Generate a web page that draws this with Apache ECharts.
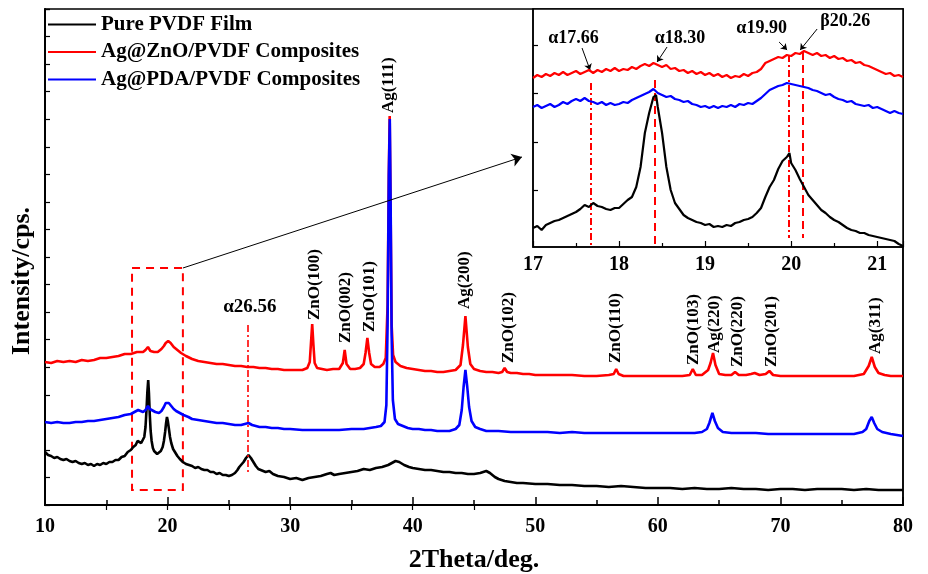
<!DOCTYPE html>
<html><head><meta charset="utf-8">
<script src="https://cdn.jsdelivr.net/npm/echarts@6/dist/echarts.min.js"></script>
<style>html,body{margin:0;padding:0;background:#fff}#c{width:928px;height:574px}</style>
</head><body><div id="c"></div>
<script>
const seriesNames = ['Pure PVDF Film', 'Ag@ZnO/PVDF Composites', 'Ag@PDA/PVDF Composites'];
const seriesColors = ['#000000', '#ff0000', '#0000ff'];

// Main pattern, 2θ (deg) vs intensity (arb. offset units)
const pvdfMain = [[10,53],[10.25,50],[10.5,49],[10.75,47],[11,48],[11.25,46],[11.5,45],[11.75,46],[12,44],[12.25,43],[12.5,44],[12.75,42],[13,41],[13.25,42],[13.5,40],[13.75,41],[14,39],[14.25,41],[14.5,40],[14.75,42],[15,41],[15.25,43],[15.5,43],[15.75,45],[16,45],[16.25,48],[16.5,49],[16.75,53],[17,55],[17.2,58],[17.4,60],[17.55,64],[17.7,66],[17.85,62],[18,64],[18.1,68],[18.2,78],[18.28,95],[18.35,113],[18.42,125],[18.48,112],[18.55,90],[18.62,74],[18.7,64],[18.8,57],[18.9,54],[19.0,53],[19.15,51],[19.3,52],[19.45,54],[19.6,58],[19.7,64],[19.8,73],[19.88,82],[19.95,88],[20.02,84],[20.1,77],[20.2,68],[20.3,62],[20.45,56],[20.6,53],[20.8,49],[21,46],[21.25,43],[21.5,41],[21.75,40],[22,39],[22.25,37],[22.5,38],[22.75,36],[23,35],[23.25,35],[23.5,33],[23.75,33],[24,31],[24.25,32],[24.5,30],[24.75,30],[25,29],[25.25,30],[25.5,32],[25.7,35],[25.85,38],[26,40],[26.2,43],[26.4,47],[26.6,50],[26.8,47],[27,43],[27.2,39],[27.4,36],[27.6,35],[27.8,34],[28,33],[28.3,34],[28.6,31],[29,29],[29.5,28],[30,26],[30.5,27],[31,25],[31.5,27],[32,28],[32.5,29],[33,31],[33.3,32],[33.6,30],[34,31],[34.5,32],[35,33],[35.5,34],[36,36],[36.5,35],[37,37],[37.5,38],[38,40],[38.3,42],[38.6,44],[38.9,43],[39.3,40],[39.7,38],[40,37],[40.5,36],[41,35],[41.5,35],[42,34],[42.5,33],[43,33],[43.5,32],[44,32],[44.5,31],[45,31],[45.5,32],[46,34],[46.3,32],[46.7,28],[47,26],[47.5,24],[48,23],[48.5,22],[49,22],[50,21],[51,21],[52,20],[53,20],[54,19],[55,19],[56,18],[57,19],[58,18],[59,17],[60,17],[61,17],[62,16],[63,17],[64,16],[65,16],[66,17],[67,16],[68,16],[69,15],[70,16],[71,16],[72,15],[73,16],[74,16],[75,16],[76,15],[77,16],[78,15],[79,15],[80,15]];
const agznoMain = [[10,143],[10.5,142],[11,144],[11.5,143],[12,144],[12.5,143],[13,145],[13.5,144],[14,145],[14.5,147],[15,147],[15.5,148],[16,149],[16.5,151],[17,151],[17.5,153],[18,153],[18.2,155],[18.4,158],[18.6,154],[18.9,153],[19.2,153],[19.5,156],[19.7,159],[19.85,162],[20.05,164],[20.25,162],[20.5,158],[20.8,155],[21.1,152],[21.5,149],[22,146],[22.5,144],[23,143],[23.5,142],[24,141],[24.5,141],[25,140],[25.5,139],[26,139],[26.5,138],[27,138],[27.5,137],[28,137],[28.5,136],[29,136],[29.5,135],[30,135],[30.5,135],[31,135],[31.4,137],[31.6,143],[31.7,162],[31.8,181],[31.9,160],[32.0,142],[32.2,137],[32.6,136],[33,135],[33.5,136],[34,136],[34.3,142],[34.45,155],[34.6,141],[34.9,136],[35.3,136],[35.7,137],[36.0,141],[36.15,152],[36.3,167],[36.45,152],[36.6,141],[36.9,138],[37.3,138],[37.6,141],[37.8,147],[37.95,200],[38.05,330],[38.12,389],[38.2,290],[38.28,180],[38.4,150],[38.6,143],[39,139],[39.5,137],[40,136],[40.5,135],[41,134],[41.5,134],[42,133],[42.5,133],[43,134],[43.5,135],[43.9,140],[44.1,160],[44.3,189],[44.5,158],[44.7,141],[45,136],[45.5,134],[46,133],[46.5,133],[47,132],[47.3,133],[47.5,137],[47.7,133],[48,132],[48.5,132],[49,131],[49.5,131],[50,130],[51,130],[52,130],[53,130],[54,129],[55,129],[56,130],[56.4,131],[56.6,136],[56.8,131],[57.2,129],[58,129],[59,129],[60,129],[61,129],[62,129],[62.6,130],[62.85,136],[63.1,130],[63.6,130],[64.1,135],[64.3,142],[64.5,152],[64.7,140],[65.0,131],[65.5,130],[66.0,130],[66.3,133],[66.6,130],[67.2,130],[67.6,131],[67.9,132],[68.3,130],[68.8,131],[69.1,134],[69.4,130],[70,129],[71,129],[72,129],[73,129],[74,129],[75,129],[76,129],[76.8,131],[77.2,139],[77.45,148],[77.7,138],[78,132],[78.5,130],[79,129],[79.5,129],[80,129]];
const agpdaMain = [[10,83],[10.5,82],[11,83],[11.5,82],[12,82],[12.5,83],[13,83],[13.5,84],[14,84],[14.5,85],[15,86],[15.5,87],[16,88],[16.5,90],[17,91],[17.3,93],[17.6,95],[17.8,94],[18.0,93],[18.2,95],[18.4,99],[18.55,96],[18.7,94],[19,93],[19.3,92],[19.5,94],[19.7,98],[19.85,102],[19.95,104],[20.1,102],[20.3,99],[20.5,96],[20.7,94],[21,92],[21.3,90],[21.7,88],[22,86],[22.5,85],[23,84],[23.5,83],[24,82],[24.5,82],[25,81],[25.5,80],[26,80],[26.3,81],[26.6,82],[26.9,80],[27.5,78],[28,78],[28.5,77],[29,77],[29.5,76],[30,76],[31,75],[32,75],[33,75],[34,75],[35,76],[36,76],[36.5,77],[37,78],[37.4,79],[37.7,83],[37.85,100],[37.95,180],[38.05,330],[38.13,386],[38.2,300],[38.28,170],[38.38,105],[38.55,86],[38.8,81],[39.2,79],[39.6,77],[40,76],[40.5,76],[41,75],[41.5,75],[42,74],[42.5,74],[43,74],[43.5,76],[43.8,80],[44.0,95],[44.15,118],[44.3,135],[44.45,118],[44.6,98],[44.8,84],[45.1,78],[45.5,76],[46,74],[47,74],[48,73],[49,73],[50,73],[51,73],[52,72],[53,73],[54,72],[55,72],[56,72],[57,72],[58,72],[59,72],[60,72],[61,72],[62,72],[63,72],[63.6,73],[64.0,76],[64.2,82],[64.45,92],[64.65,84],[64.9,77],[65.3,73],[66,72],[67,72],[68,72],[69,71],[70,71],[71,71],[72,71],[73,71],[74,71],[75,71],[76,71],[76.7,73],[77.0,76],[77.25,84],[77.45,88],[77.65,82],[77.9,76],[78.3,73],[79,71],[79.5,70],[80,69]];

// Inset (17–21.3°)
const pvdfInset = [[17.00,19],[17.05,21],[17.10,17],[17.15,22],[17.20,24],[17.25,26],[17.30,27],[17.35,29],[17.40,31],[17.45,33],[17.50,35],[17.55,38],[17.60,42],[17.65,40],[17.70,44],[17.75,41],[17.80,40],[17.85,38],[17.90,37],[17.95,39],[18.00,39],[18.05,43],[18.10,47],[18.15,50],[18.20,60],[18.25,80],[18.30,114],[18.35,134],[18.40,150],[18.43,152],[18.45,140],[18.50,114],[18.55,80],[18.60,57],[18.65,44],[18.70,38],[18.75,32],[18.80,29],[18.85,27],[18.90,25],[18.95,24],[19.00,22],[19.05,23],[19.10,20],[19.15,21],[19.20,20],[19.25,22],[19.30,21],[19.35,24],[19.40,25],[19.45,27],[19.50,28],[19.55,30],[19.60,34],[19.65,39],[19.70,50],[19.75,60],[19.80,67],[19.85,78],[19.90,86],[19.95,90],[19.98,94],[20.00,84],[20.05,77],[20.10,68],[20.15,60],[20.20,52],[20.25,47],[20.30,42],[20.35,37],[20.40,34],[20.45,30],[20.50,27],[20.55,25],[20.60,22],[20.65,19],[20.70,17],[20.75,16],[20.80,14],[20.85,14],[20.90,12],[20.95,11],[21.00,10],[21.05,9],[21.10,8],[21.15,7],[21.20,6],[21.25,3],[21.30,1]];
const agznoInset = [[17.00,169],[17.05,172],[17.10,170],[17.15,173],[17.20,171],[17.25,174],[17.30,172],[17.35,175],[17.40,172],[17.45,174],[17.50,176],[17.55,173],[17.60,175],[17.65,177],[17.70,174],[17.75,177],[17.80,175],[17.85,178],[17.90,176],[17.95,179],[18.00,176],[18.05,178],[18.10,177],[18.15,180],[18.20,178],[18.25,181],[18.30,183],[18.35,181],[18.40,184],[18.45,182],[18.50,180],[18.55,182],[18.60,178],[18.65,179],[18.70,176],[18.75,177],[18.80,174],[18.85,176],[18.90,173],[18.95,175],[19.00,172],[19.05,174],[19.10,171],[19.15,173],[19.20,170],[19.25,172],[19.30,169],[19.35,171],[19.40,170],[19.45,173],[19.50,171],[19.55,174],[19.60,175],[19.65,178],[19.70,184],[19.75,186],[19.80,188],[19.85,190],[19.90,189],[19.95,192],[20.00,191],[20.05,194],[20.10,193],[20.15,196],[20.20,194],[20.25,192],[20.30,194],[20.35,191],[20.40,192],[20.45,189],[20.50,191],[20.55,188],[20.60,189],[20.65,186],[20.70,187],[20.75,184],[20.80,185],[20.85,182],[20.90,181],[20.95,179],[21.00,177],[21.05,175],[21.10,173],[21.15,174],[21.20,171],[21.25,172],[21.30,170]];
const agpdaInset = [[17.00,140],[17.05,142],[17.10,139],[17.15,141],[17.20,143],[17.25,140],[17.30,142],[17.35,145],[17.40,143],[17.45,146],[17.50,148],[17.55,146],[17.60,149],[17.65,146],[17.70,145],[17.75,143],[17.80,145],[17.85,142],[17.90,144],[17.95,142],[18.00,143],[18.05,145],[18.10,144],[18.15,147],[18.20,149],[18.25,151],[18.30,153],[18.35,155],[18.40,158],[18.45,154],[18.50,152],[18.55,150],[18.60,151],[18.65,148],[18.70,147],[18.75,145],[18.80,146],[18.85,143],[18.90,142],[18.95,140],[19.00,141],[19.05,139],[19.10,141],[19.15,139],[19.20,141],[19.25,140],[19.30,142],[19.35,140],[19.40,143],[19.45,142],[19.50,144],[19.55,143],[19.60,146],[19.65,149],[19.70,153],[19.75,157],[19.80,159],[19.85,161],[19.90,162],[19.95,164],[20.00,163],[20.05,162],[20.10,161],[20.15,160],[20.20,159],[20.25,157],[20.30,156],[20.35,154],[20.40,152],[20.45,153],[20.50,150],[20.55,148],[20.60,147],[20.65,145],[20.70,146],[20.75,143],[20.80,142],[20.85,141],[20.90,142],[20.95,139],[21.00,140],[21.05,138],[21.10,136],[21.15,134],[21.20,136],[21.25,134],[21.30,133]];

// Annotations (data coordinates)
const peakLabels = [['ZnO(100)',32.0,185],['ZnO(002)',34.55,162],['ZnO(101)',36.51,173],['Ag(111)',38.06,392],['Ag(200)',44.26,196],['ZnO(102)',47.85,142],['ZnO(110)',56.57,142],['ZnO(103)',62.94,140],['Ag(220)',64.65,152],['ZnO(220)',66.53,138],['ZnO(201)',69.30,138],['Ag(311)',77.78,151]];
const alphaMainLabel = ['α26.56', 26.72, 198];
const alphaMainLine = [26.56, 180, 33];
const zoomBox = [17.1, 237, 21.25, 15];
const zoomArrow = [[21.25, 237], [48.91, 348]];
const insetLabels = [['α17.66',17.471,209],['α18.30',18.709,209],['α19.90',19.657,218.5],['β20.26',20.628,225.5]];
const insetArrows = [[[17.570,199],[17.663,177]],[[18.558,200],[18.442,185]],[[19.860,205],[19.953,197]],[[20.302,218],[20.105,197]]];
const insetLines = [[17.674,164,0,'dashdot'],[18.41,167,2,'dash'],[19.97,192,9,'dashdot'],[20.14,195,9,'dash']];
const mainXTicks = [10,20,30,40,50,60,70,80];
const insetXTicks = [17,18,19,20,21];
const insetYTicks = [57,105,154,202];

const FF = "'Liberation Serif','Times New Roman',serif";
const bold = {fontFamily: FF, fontWeight: 'bold', color: '#000'};
const dashStyles = {dash: [8,5], dashdot: [7,3,2,3]};

const chart = echarts.init(document.getElementById('c'), null, {renderer: 'canvas'});

const option = {
  animation: false,
  backgroundColor: '#fff',
  legend: {
    data: seriesNames, orient: 'vertical', left: 48, top: 14, padding: 0,
    itemWidth: 48, itemHeight: 2, itemGap: 6.5, icon: 'rect',
    textStyle: Object.assign({fontSize: 21}, bold)
  },
  grid: [
    {left: 45, right: 25, top: 9, bottom: 69, show: true, borderColor: '#000', borderWidth: 1.5, outerBoundsMode: 'none', containLabel: false},
    {left: 533, right: 25, top: 9, bottom: 327, show: true, backgroundColor: '#fff', borderColor: '#000', borderWidth: 1.5, z: 3, outerBoundsMode: 'none', containLabel: false}
  ],
  xAxis: [
    {gridIndex: 0, type: 'value', min: 10, max: 80, interval: 10,
     axisLine: {lineStyle: {color: '#000', width: 2}},
     axisTick: {inside: true, length: 8, lineStyle: {color: '#000', width: 1.5}},
     minorTick: {show: true, splitNumber: 2, length: 5, lineStyle: {color: '#000', width: 1.5}},
     splitLine: {show: false},
     axisLabel: Object.assign({fontSize: 20, margin: 12, customValues: mainXTicks}, bold),
     name: '2Theta/deg.', nameLocation: 'middle', nameGap: 42,
     nameTextStyle: Object.assign({fontSize: 26}, bold)},
    {gridIndex: 0, type: 'value', min: 10, max: 80, position: 'top',
     axisLine: {lineStyle: {color: '#000', width: 1.5}},
     axisTick: {inside: true, length: 5, customValues: [15,20,25,30,35,40,45], lineStyle: {color: '#000', width: 1.2}},
     axisLabel: {show: false}, splitLine: {show: false}},
    {gridIndex: 1, type: 'value', min: 17, max: 21.3, interval: 1,
     axisLine: {lineStyle: {color: '#000', width: 1.5}},
     axisTick: {inside: true, length: 6, lineStyle: {color: '#000', width: 1.2}},
     minorTick: {show: true, splitNumber: 2, length: 4, lineStyle: {color: '#000', width: 1.2}},
     splitLine: {show: false},
     axisLabel: Object.assign({fontSize: 20, margin: 8, customValues: insetXTicks}, bold),
     z: 4}
  ],
  yAxis: [
    {gridIndex: 0, type: 'value', min: 0, max: 496, interval: 496/18,
     axisLine: {lineStyle: {color: '#000', width: 2}},
     axisTick: {inside: true, length: 5, lineStyle: {color: '#000', width: 1.2}},
     axisLabel: {show: false}, splitLine: {show: false},
     name: 'Intensity/cps.', nameLocation: 'middle', nameGap: 10,
     nameTextStyle: Object.assign({fontSize: 26, padding: [0, 48, 0, 0]}, bold)},
    {gridIndex: 0, type: 'value', min: 0, max: 496, position: 'right',
     axisLine: {lineStyle: {color: '#000', width: 1.5}}, axisTick: {show: false},
     axisLabel: {show: false}, splitLine: {show: false}},
    {gridIndex: 1, type: 'value', min: 0, max: 238,
     axisLine: {lineStyle: {color: '#000', width: 1.5}},
     axisTick: {inside: true, length: 5, customValues: insetYTicks, lineStyle: {color: '#000', width: 1.2}},
     axisLabel: {show: false}, splitLine: {show: false}, z: 4}
  ],
  series: []
};

const mainData = [pvdfMain, agznoMain, agpdaMain];
const insetData = [pvdfInset, agznoInset, agpdaInset];

mainData.forEach((d, i) => {
  option.series.push({
    name: seriesNames[i], type: 'line', xAxisIndex: 0, yAxisIndex: 0, data: d,
    showSymbol: false, symbol: 'none', silent: true,
    lineStyle: {color: seriesColors[i], width: 2.6}, itemStyle: {color: seriesColors[i]}, z: 2
  });
});
insetData.forEach((d, i) => {
  option.series.push({
    name: seriesNames[i], type: 'line', xAxisIndex: 2, yAxisIndex: 2, data: d,
    showSymbol: false, symbol: 'none', silent: true,
    lineStyle: {color: seriesColors[i], width: 2.2}, itemStyle: {color: seriesColors[i]}, z: 5
  });
});

// main annotations on the red (Ag@ZnO) main series
const redMain = option.series[1];
redMain.markPoint = {
  silent: true, symbol: 'circle', symbolSize: 1, itemStyle: {color: 'rgba(0,0,0,0)'},
  data: peakLabels.map(([n, x, y]) => ({
    name: n, coord: [x, y],
    label: Object.assign({show: true, formatter: '{b}', position: 'inside', rotate: 90, align: 'left', verticalAlign: 'middle', fontSize: 17}, bold)
  })).concat([{
    name: alphaMainLabel[0], coord: [alphaMainLabel[1], alphaMainLabel[2]],
    label: Object.assign({show: true, formatter: '{b}', position: 'inside', align: 'center', verticalAlign: 'middle', fontSize: 19}, bold)
  }])
};
redMain.markLine = {
  silent: true, symbol: ['none', 'none'], label: {show: false},
  data: [
    [{coord: [alphaMainLine[0], alphaMainLine[1]], lineStyle: {color: '#ff0000', width: 1.6, type: [7,3,2,3]}},
     {coord: [alphaMainLine[0], alphaMainLine[2]]}],
    [{coord: zoomArrow[0], symbol: 'none', lineStyle: {color: '#000', width: 1, type: 'solid'}},
     {coord: zoomArrow[1], symbol: 'arrow', symbolSize: 10}]
  ]
};
redMain.markArea = {
  silent: true,
  itemStyle: {color: 'rgba(0,0,0,0)', borderColor: '#ff0000', borderWidth: 2, borderType: [8,6]},
  data: [[{coord: [zoomBox[0], zoomBox[1]]}, {coord: [zoomBox[2], zoomBox[3]]}]]
};

// inset annotations
const blackInset = option.series[3];
blackInset.markLine = {
  silent: true, symbol: ['none', 'none'], label: {show: false},
  data: insetLines.map(([x, y1, y2, t]) => [
    {coord: [x, y1], lineStyle: {color: '#ff0000', width: 2, type: dashStyles[t]}},
    {coord: [x, y2]}
  ])
};
const redInset = option.series[4];
redInset.markLine = {
  silent: true, symbol: ['none', 'arrow'], symbolSize: 6, label: {show: false},
  lineStyle: {color: '#000', width: 1, type: 'solid'},
  data: insetArrows.map(([a, b]) => [{coord: a}, {coord: b}])
};
redInset.markPoint = {
  silent: true, symbol: 'circle', symbolSize: 1, itemStyle: {color: 'rgba(0,0,0,0)'},
  data: insetLabels.map(([n, x, y]) => ({
    name: n, coord: [x, y],
    label: Object.assign({show: true, formatter: '{b}', position: 'inside', align: 'center', verticalAlign: 'middle', fontSize: 18}, bold)
  }))
};

chart.setOption(option);
</script>
</body></html>
